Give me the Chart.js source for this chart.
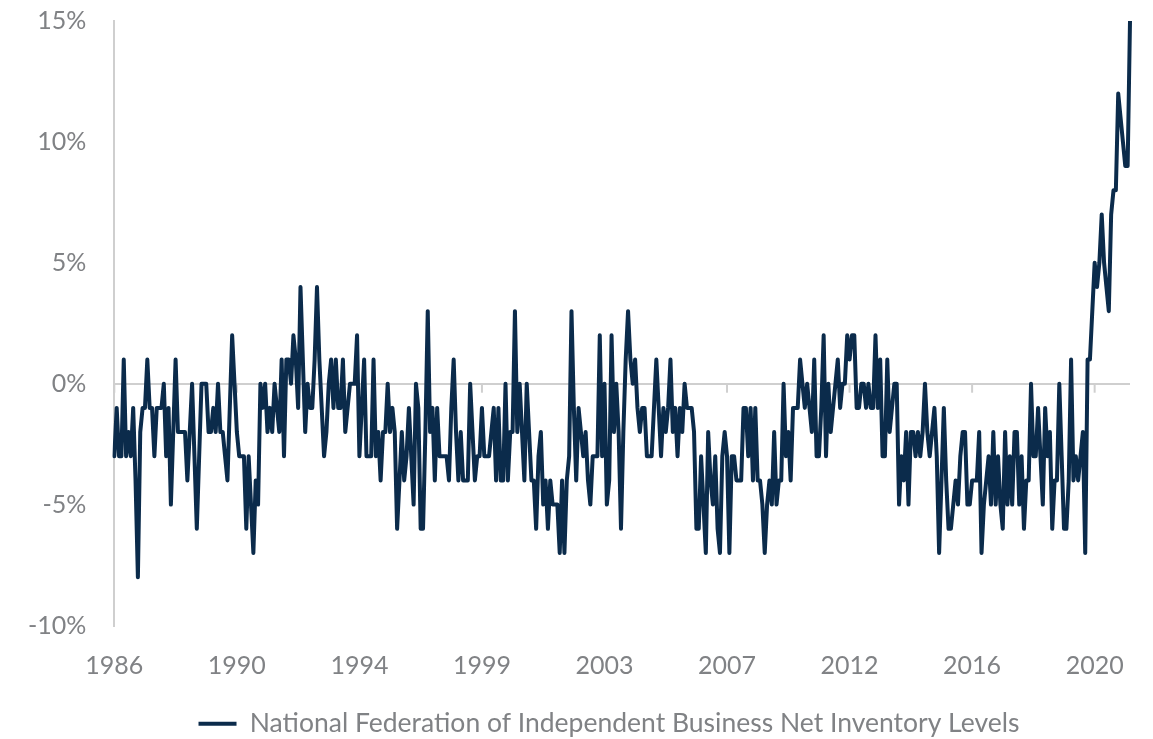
<!DOCTYPE html>
<html>

<head>
    <title>NFIB Net Inventory Levels</title>
    <style>
        body {
            margin: 0;
            background: #ffffff;
        }

        .chart-box {
            width: 1153px;
            height: 739px;
            position: relative;
        }
    </style>
</head>

<body>
    <div class="chart-box">
        <canvas id="inventoryChart"></canvas>
    </div>

    <script src="https://cdn.jsdelivr.net/npm/chart.js"></script>
    <script>
        // rótulos do eixo x (um a cada 52 meses)
        var tickLabels = ['1986', '1990', '1994', '1999', '2003', '2007', '2012', '2016', '2020'];
        var tickStep = 52;

        var yTicks = [-10, -5, 0, 5, 10, 15];

        // valores mensais em %
        var netInventory = [
            -3, -1, -3, -3, 1, -3, -2, -3, -1, -4,
            -8, -2, -1, -1, 1, -1, -1, -3, -1, -1,
            -1, 0, -3, -1, -5, -2, 1, -2, -2, -2,
            -2, -4, -2, 0, -3, -6, -3, 0, 0, 0,
            -2, -2, -1, -2, 0, -2, -2, -3, -4, -1,
            2, 0, -2, -3, -3, -3, -6, -3, -5, -7,
            -4, -5, 0, -1, 0, -2, -1, -2, 0, -1,
            -2, 1, -3, 1, 1, 0, 2, 1, -1, 4,
            1, -2, 0, -1, -1, 1, 4, 1, -1, -3,
            -2, 0, 1, -1, 1, -1, -1, 1, -2, -1,
            0, 0, 0, 2, -3, -1, 1, -3, -3, -3,
            1, -3, -2, -4, -2, -2, 0, -2, -1, -2,
            -6, -4, -2, -4, -3, -1, -3, -5, 0, -1,
            -6, -6, -2, 3, -2, -1, -4, -1, -3, -3,
            -3, -3, -4, -1, 1, -2, -4, -2, -4, -4,
            -4, 0, -2, -4, -3, -3, -1, -3, -3, -3,
            -2, -1, -4, -1, -4, -4, 0, -4, -2, -2,
            3, -2, 0, -2, -4, 0, -2, -4, -4, -6,
            -3, -2, -5, -4, -6, -4, -5, -5, -5, -7,
            -4, -7, -4, -3, 3, -1, -4, -1, -2, -3,
            -2, -4, -5, -3, -3, -3, 2, -3, 0, -5,
            -4, 2, -2, 0, -2, -6, -2, 1, 3, 1,
            0, 1, -1, -2, -1, -1, -3, -3, -3, -1,
            1, -1, -3, -1, -2, -1, 1, -2, -1, -3,
            -1, -2, 0, -1, -1, -1, -2, -6, -6, -3,
            -5, -7, -2, -4, -5, -3, -6, -7, -3, -2,
            -3, -7, -3, -3, -4, -4, -4, -1, -1, -3,
            -1, -4, -1, -4, -4, -5, -7, -5, -4, -5,
            -2, -5, -4, -4, 0, -3, -2, -4, -1, -1,
            -1, 1, 0, -1, 0, -1, -2, 1, -3, -3,
            -1, 2, -3, 0, -2, -1, 0, 1, -1, 0,
            0, 2, 1, 2, 2, -1, -1, 0, 0, -1,
            0, -1, -1, 2, -1, 1, -3, -3, 1, -2,
            -1, 0, 0, -5, -3, -4, -2, -5, -2, -2,
            -3, -2, -3, -2, 0, -2, -3, -2, -1, -3,
            -7, -4, -1, -4, -6, -6, -5, -4, -5, -3,
            -2, -2, -5, -5, -4, -4, -4, -2, -7, -5,
            -4, -3, -5, -2, -5, -3, -5, -6, -2, -5,
            -3, -5, -2, -2, -5, -3, -6, -4, -4, 0,
            -3, -3, -1, -3, -5, -1, -3, -2, -6, -4,
            -4, 0, -3, -6, -6, -4, 1, -4, -3, -4,
            -3, -2, -7, 1, 1, 3, 5, 4, 5, 7,
            5, 4, 3, 7, 8, 8, 12, 11, 10, 9,
            9, 15
        ];

        var seriesName = 'National Federation of Independent Business Net Inventory Levels';
        var lineColor = '#0b2b4b';
        var textColor = '#808285';
        var ruleColor = '#cfcfcf';

        var labels = [];
        netInventory.forEach(function (v, i) {
            labels.push(i % tickStep === 0 ? tickLabels[i / tickStep] : '');
        });

        // pequenos traços do eixo x desenhados sobre a linha do zero
        var zeroTicks = {
            id: 'zeroTicks',
            beforeDatasetsDraw: function (chart) {
                var ctx = chart.ctx;
                var xs = chart.scales.x;
                var y0 = chart.scales.y.getPixelForValue(0);
                ctx.save();
                ctx.strokeStyle = ruleColor;
                ctx.lineWidth = 2;
                xs.ticks.forEach(function (t) {
                    var x = xs.getPixelForValue(t.value);
                    ctx.beginPath();
                    ctx.moveTo(x, y0);
                    ctx.lineTo(x, y0 + 9);
                    ctx.stroke();
                });
                ctx.restore();
            }
        };

        // a legenda do original fica um pouco à direita do centro
        var legendShift = {
            id: 'legendShift',
            afterLayout: function (chart) {
                if (chart.legend) {
                    chart.legend.left += 44;
                    chart.legend.right += 44;
                }
            }
        };

        var ctx = document.getElementById('inventoryChart').getContext('2d');
        var chart = new Chart(ctx, {
            type: 'line',
            data: {
                labels: labels,
                datasets: [{
                    label: seriesName,
                    data: netInventory,
                    borderColor: lineColor,
                    backgroundColor: lineColor,
                    borderWidth: 4,
                    pointRadius: 0,
                    tension: 0,
                    borderJoinStyle: 'round',
                    borderCapStyle: 'round'
                }]
            },
            options: {
                responsive: true,
                maintainAspectRatio: false,
                animation: false,
                layout: {
                    padding: { left: 0, right: 23, top: 21, bottom: -8 }
                },
                plugins: {
                    tooltip: { enabled: false },
                    legend: {
                        position: 'bottom',
                        labels: {
                            color: textColor,
                            font: { family: 'Lato', size: 26.5 },
                            usePointStyle: true,
                            pointStyle: 'line',
                            pointStyleWidth: 38,
                            padding: 4
                        }
                    }
                },
                scales: {
                    x: {
                        type: 'category',
                        offset: false,
                        grid: { display: false, drawTicks: false },
                        border: { display: false },
                        afterBuildTicks: function (axis) {
                            axis.ticks = axis.ticks.filter(function (t) {
                                return t.value % tickStep === 0;
                            });
                        },
                        afterFit: function (axis) {
                            axis.height += 1;
                        },
                        ticks: {
                            autoSkip: false,
                            maxRotation: 0,
                            minRotation: 0,
                            color: textColor,
                            padding: 25,
                            font: { family: 'Lato', size: 25 }
                        }
                    },
                    y: {
                        min: yTicks[0],
                        max: yTicks[yTicks.length - 1],
                        afterBuildTicks: function (axis) {
                            axis.ticks = yTicks.map(function (v) { return { value: v }; });
                        },
                        afterFit: function (axis) {
                            axis.paddingTop = 0;
                        },
                        grid: {
                            drawTicks: false,
                            lineWidth: 2,
                            color: function (c) {
                                return c.tick && c.tick.value === 0 ? ruleColor : 'rgba(0,0,0,0)';
                            }
                        },
                        border: { display: true, color: ruleColor, width: 2 },
                        ticks: {
                            color: textColor,
                            padding: 28,
                            font: { family: 'Lato', size: 25 },
                            callback: function (value) {
                                return value + '%';
                            }
                        }
                    }
                }
            },
            plugins: [zeroTicks, legendShift]
        });
    </script>
</body>

</html>
